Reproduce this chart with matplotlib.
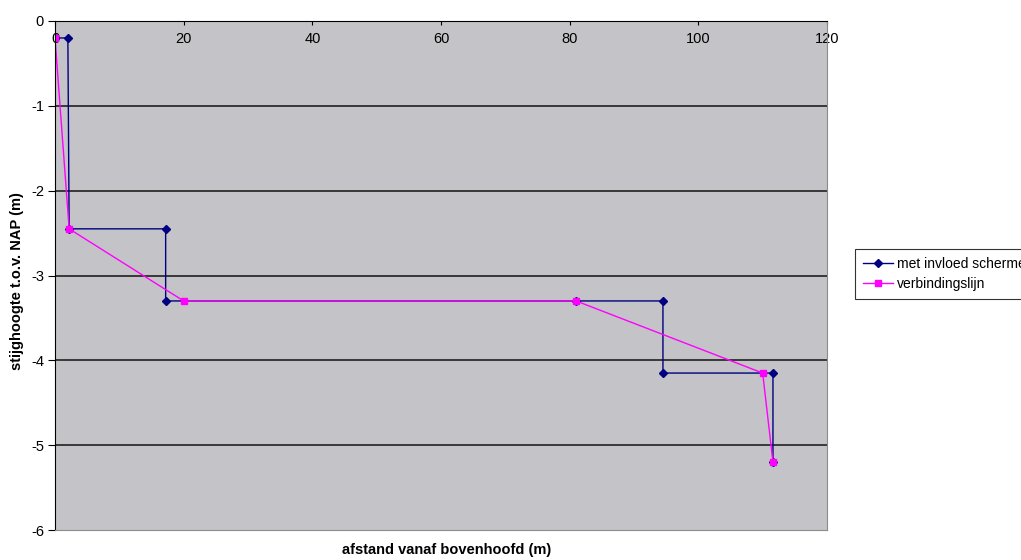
import matplotlib
matplotlib.use('Agg')
import matplotlib.pyplot as plt

# gegevens
afstand_scherm = [0, 2.0, 2.2, 17.2, 17.2, 81.0, 94.5, 94.5, 111.6, 111.6]
hoogte_scherm = [-0.2, -0.2, -2.45, -2.45, -3.3, -3.3, -3.3, -4.15, -4.15, -5.2]

afstand_verb = [0, 2.2, 20.0, 81.0, 110.0, 111.6]
hoogte_verb = [-0.2, -2.45, -3.3, -3.3, -4.15, -5.2]

x_ticks = [0, 20, 40, 60, 80, 100, 120]
y_ticks = [0, -1, -2, -3, -4, -5, -6]

plt.rcParams['font.family'] = ['Liberation Sans', 'DejaVu Sans']
plt.rcParams['axes.unicode_minus'] = False

fig = plt.figure(figsize=(10.21, 5.6), dpi=100)
ax = fig.add_axes([55 / 1021, 30 / 560, 772 / 1021, 509 / 560])
ax.set_facecolor('#C4C3C7')

ax.plot(afstand_scherm, hoogte_scherm, color='#000080', lw=1.0, marker='D',
        markersize=4, label='met invloed scherme')
ax.plot(afstand_verb, hoogte_verb, color='#FF00FF', lw=1.0, marker='s',
        markersize=5, label='verbindingslijn')

ax.set_xlim(0, 120)
ax.set_ylim(-6, 0)
ax.set_xticks(x_ticks)
ax.set_yticks(y_ticks)

for y in y_ticks[1:-1]:
    ax.axhline(y, color='#202020', lw=1.2, zorder=0.5)

ax.spines['top'].set_color('black')
ax.spines['left'].set_color('black')
ax.spines['bottom'].set_color('#8C8C8C')
ax.spines['right'].set_color('#8C8C8C')

ax.tick_params(axis='x', top=True, bottom=False, labeltop=True, labelbottom=False,
               direction='in', length=3, pad=-18, labelsize=10.5)
ax.tick_params(axis='y', direction='out', length=5, pad=3, labelsize=10.5)

fig.text(17 / 1021, 1 - 281 / 560, 'stijghoogte t.o.v. NAP (m)', fontsize=10.5,
         fontweight='bold', rotation=90, ha='center', va='center')
fig.text(447 / 1021, 1 - 550 / 560, 'afstand vanaf bovenhoofd (m)', fontsize=10.5,
         fontweight='bold', ha='center', va='center')

leg = fig.legend(loc='upper left', bbox_to_anchor=(855 / 1021, 1 - 249 / 560),
                 fontsize=10, frameon=True, fancybox=False, edgecolor='black',
                 handlelength=2.2, borderpad=0.55, labelspacing=0.45, handletextpad=0.25,
                 borderaxespad=0, markerscale=1)
leg.get_frame().set_linewidth(0.8)

fig.savefig('out.png', dpi=100)
